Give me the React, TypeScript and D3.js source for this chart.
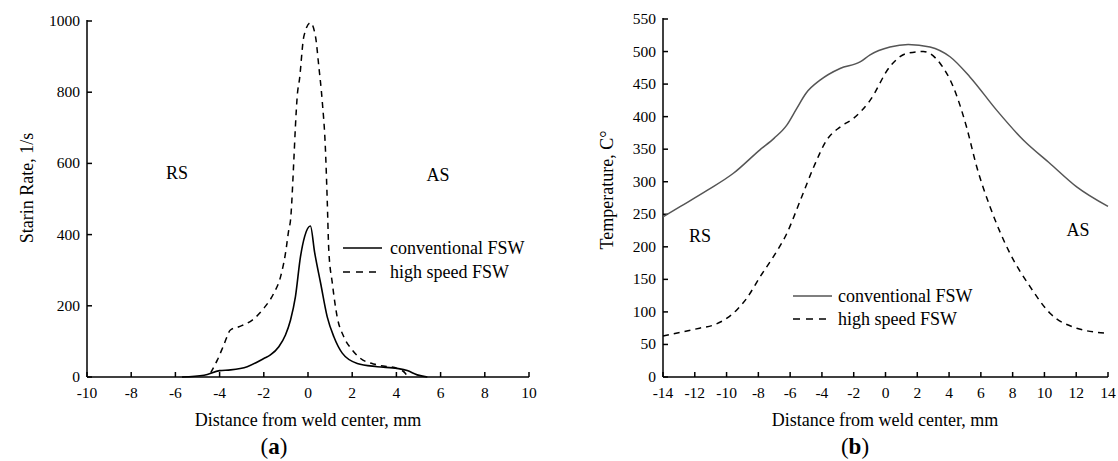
import React from 'react';
import * as d3 from 'd3';

// (a) strain rate vs distance
const aConvX = [-5.7, -4.7, -4.0, -3.5, -2.75, -2.0, -1.7, -1.32, -1.02, -0.79, -0.57, -0.34, -0.15, 0.11, 0.3, 0.57, 0.87, 1.17, 1.55, 2.23, 3.13, 4.04, 4.49, 4.94, 5.4];
const aConvY = [0, 5, 18, 20, 29, 52, 62, 85, 118, 160, 225, 338, 395, 424, 350, 264, 169, 113, 67, 38, 29, 24, 18, 6, 0];
const aHighX = [-4.4, -4.1, -3.81, -3.51, -3.13, -2.52, -2.0, -1.55, -1.24, -1.02, -0.87, -0.79, -0.64, -0.57, -0.49, -0.38, -0.19, 0.11, 0.34, 0.49, 0.64, 0.79, 0.87, 0.94, 1.1, 1.32, 1.62, 2.0, 2.38, 3.13, 4.04, 4.41, 4.49];
const aHighY = [12, 48, 90, 132, 141, 160, 193, 235, 282, 347, 413, 441, 610, 703, 787, 839, 956, 995, 956, 872, 778, 638, 497, 357, 264, 169, 113, 76, 52, 34, 24, 10, 0];
const aXTicks = [-10, -8, -6, -4, -2, 0, 2, 4, 6, 8, 10];
const aYTicks = [0, 200, 400, 600, 800, 1000];

// (b) temperature vs distance
const bConvX = [-14, -12.9, -11.2, -9.57, -7.9, -7.0, -6.21, -5.6, -5.0, -4.12, -2.86, -1.6, -0.97, 0.28, 1.43, 2.8, 4.06, 5.31, 6.99, 8.67, 10.35, 12.03, 14];
const bConvY = [246, 262, 287, 313, 349, 367, 387, 412, 436, 456, 474, 484, 495, 507, 511, 507, 492, 461, 410, 364, 328, 292, 262];
const bHighX = [-14, -11.7, -10.8, -10, -9.36, -8.73, -7.89, -7.05, -6.2, -5.35, -4.51, -3.7, -2.86, -2.03, -0.97, 0.28, 1.33, 2.38, 3.43, 4.26, 5.1, 5.74, 6.57, 7.83, 9.09, 10.35, 12.03, 14];
const bHighY = [63, 75, 80, 90, 103, 121, 154, 185, 221, 272, 323, 364, 384, 397, 425, 477, 497, 500, 482, 446, 384, 323, 262, 190, 139, 98, 75, 67];
const bXTicks = [-14, -12, -10, -8, -6, -4, -2, 0, 2, 4, 6, 8, 10, 12, 14];
const bYTicks = [0, 50, 100, 150, 200, 250, 300, 350, 400, 450, 500, 550];

const FONT = '"Liberation Serif", "Times New Roman", serif';

type Panel = {
  x: d3.ScaleLinear<number, number>;
  y: d3.ScaleLinear<number, number>;
  xTicks: number[];
  yTicks: number[];
};

const Axes = ({ x, y, xTicks, yTicks }: Panel) => {
  const [x0] = x.range();
  const [y0] = y.range();
  return (
    <g fontFamily={FONT} fontSize={15.5} fill="#000">
      <line x1={x0} x2={x.range()[1]} y1={y0} y2={y0} stroke="#000" strokeWidth={1.5} />
      <line x1={x0} x2={x0} y1={y0} y2={y.range()[1] - 1} stroke="#000" strokeWidth={1.5} />
      {xTicks.map(t => (
        <g key={'x' + t}>
          <line x1={x(t)} x2={x(t)} y1={y0} y2={y0 - 5} stroke="#000" strokeWidth={1.5} />
          <text x={x(t)} y={y0 + 21} textAnchor="middle">{t}</text>
        </g>
      ))}
      {yTicks.map(t => (
        <g key={'y' + t}>
          <line x1={x0} x2={x0 + 5} y1={y(t)} y2={y(t)} stroke="#000" strokeWidth={1.5} />
          <text x={x0 - 7} y={y(t) + 5} textAnchor="end">{t}</text>
        </g>
      ))}
    </g>
  );
};

const pts = (xs: number[], ys: number[]) => xs.map((v, i) => [v, ys[i]] as [number, number]);

export default function App() {
  const ax = d3.scaleLinear().domain([-10, 10]).range([87, 529]);
  const ay = d3.scaleLinear().domain([0, 1000]).range([377, 21]);
  const bx = d3.scaleLinear().domain([-14, 14]).range([663, 1108]);
  const by = d3.scaleLinear().domain([0, 550]).range([377, 19]);

  const aLine = d3.line<[number, number]>().x(d => ax(d[0])).y(d => ay(d[1])).curve(d3.curveMonotoneX);
  const bLine = d3.line<[number, number]>().x(d => bx(d[0])).y(d => by(d[1])).curve(d3.curveMonotoneX);

  return (
    <svg width={1118} height={461} style={{ position: 'absolute', left: 0, top: 0, background: '#fff' }}>
      {/* panel a */}
      <Axes x={ax} y={ay} xTicks={aXTicks} yTicks={aYTicks} />
      <path d={aLine(pts(aHighX, aHighY)) || ''} fill="none" stroke="#000" strokeWidth={1.5} strokeDasharray="6,5" />
      <path d={aLine(pts(aConvX, aConvY)) || ''} fill="none" stroke="#000" strokeWidth={1.6} />
      <g fontFamily={FONT} fontSize={18} fill="#000">
        <text x={177} y={179} textAnchor="middle">RS</text>
        <text x={438} y={181} textAnchor="middle">AS</text>
        <line x1={343} x2={382} y1={248} y2={248} stroke="#000" strokeWidth={1.6} />
        <text x={390} y={254}>conventional FSW</text>
        <line x1={343} x2={382} y1={272} y2={272} stroke="#000" strokeWidth={1.5} strokeDasharray="7,6" />
        <text x={390} y={278}>high speed FSW</text>
        <text x={308} y={426} textAnchor="middle">Distance from weld center, mm</text>
        <text transform="translate(33,188) rotate(-90)" textAnchor="middle">Starin Rate, 1/s</text>
        <text x={274} y={454} textAnchor="middle" fontSize={23}>(<tspan fontWeight="bold">a</tspan>)</text>
      </g>

      {/* panel b */}
      <Axes x={bx} y={by} xTicks={bXTicks} yTicks={bYTicks} />
      <path d={bLine(pts(bHighX, bHighY)) || ''} fill="none" stroke="#000" strokeWidth={1.5} strokeDasharray="6,5" />
      <path d={bLine(pts(bConvX, bConvY)) || ''} fill="none" stroke="#555" strokeWidth={1.5} />
      <g fontFamily={FONT} fontSize={18} fill="#000">
        <text x={700} y={242} textAnchor="middle">RS</text>
        <text x={1078} y={236} textAnchor="middle">AS</text>
        <line x1={793} x2={832} y1={296} y2={296} stroke="#555" strokeWidth={1.5} />
        <text x={838} y={302}>conventional FSW</text>
        <line x1={793} x2={832} y1={319} y2={319} stroke="#000" strokeWidth={1.5} strokeDasharray="7,6" />
        <text x={838} y={325}>high speed FSW</text>
        <text x={885} y={426} textAnchor="middle">Distance from weld center, mm</text>
        <text transform="translate(613,190) rotate(-90)" textAnchor="middle">Temperature, C°</text>
        <text x={855} y={454} textAnchor="middle" fontSize={23}>(<tspan fontWeight="bold">b</tspan>)</text>
      </g>
    </svg>
  );
}
